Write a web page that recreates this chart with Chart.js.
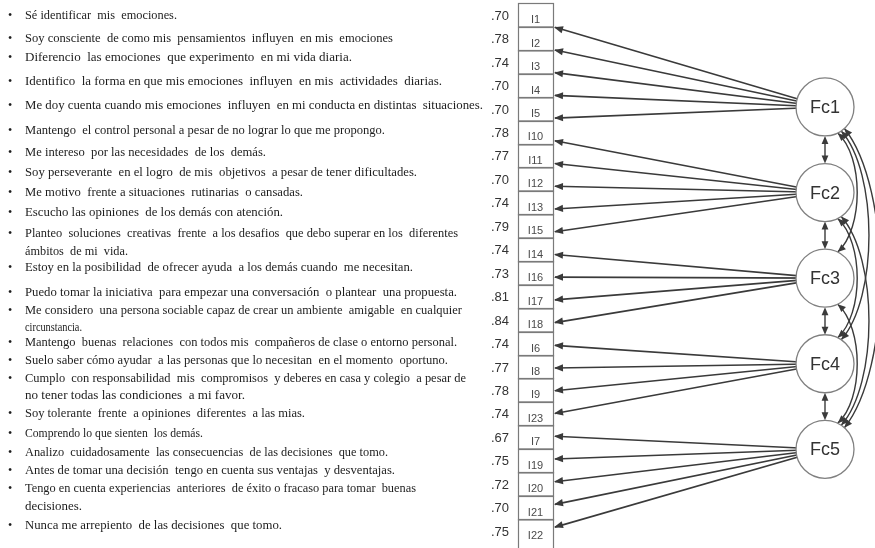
<!DOCTYPE html>
<html><head><meta charset="utf-8">
<script src="https://cdn.jsdelivr.net/npm/chart.js@4/dist/chart.umd.min.js"></script>
<style>html,body{margin:0;padding:0;background:#fff;overflow:hidden}canvas{display:block}</style>
</head><body>
<canvas id="c" width="875" height="548"></canvas>
<script>
// ---------- DATA ----------
const items = ['I1','I2','I3','I4','I5','I10','I11','I12','I13','I15','I14','I16','I17','I18','I6','I8','I9','I23','I7','I19','I20','I21','I22'];
const loadings = [.70,.78,.74,.70,.70,.78,.77,.70,.74,.79,.74,.73,.81,.84,.74,.77,.78,.74,.67,.75,.72,.70,.75];
const itemFactor = [0,0,0,0,0,1,1,1,1,1,2,2,2,2,3,3,3,3,4,4,4,4,4];
const factors = ['Fc1','Fc2','Fc3','Fc4','Fc5'];
const covariances = [[0,1],[1,2],[2,3],[3,4],[0,2],[0,3],[0,4],[1,3],[1,4],[2,4]];
const statements = [
  ['Sé identificar  mis  emociones.'],
  ['Soy consciente  de como mis  pensamientos  influyen  en mis  emociones'],
  ['Diferencio  las emociones  que experimento  en mi vida diaria.'],
  ['Identifico  la forma en que mis emociones  influyen  en mis  actividades  diarias.'],
  ['Me doy cuenta cuando mis emociones  influyen  en mi conducta en distintas  situaciones.'],
  ['Mantengo  el control personal a pesar de no lograr lo que me propongo.'],
  ['Me intereso  por las necesidades  de los  demás.'],
  ['Soy perseverante  en el logro  de mis  objetivos  a pesar de tener dificultades.'],
  ['Me motivo  frente a situaciones  rutinarias  o cansadas.'],
  ['Escucho las opiniones  de los demás con atención.'],
  ['Planteo  soluciones  creativas  frente  a los desafios  que debo superar en los  diferentes', 'ámbitos  de mi  vida.'],
  ['Estoy en la posibilidad  de ofrecer ayuda  a los demás cuando  me necesitan.'],
  ['Puedo tomar la iniciativa  para empezar una conversación  o plantear  una propuesta.'],
  ['Me considero  una persona sociable capaz de crear un ambiente  amigable  en cualquier', 'circunstancia.'],
  ['Mantengo  buenas  relaciones  con todos mis  compañeros de clase o entorno personal.'],
  ['Suelo saber cómo ayudar  a las personas que lo necesitan  en el momento  oportuno.'],
  ['Cumplo  con responsabilidad  mis  compromisos  y deberes en casa y colegio  a pesar de', 'no tener todas las condiciones  a mi favor.'],
  ['Soy tolerante  frente  a opiniones  diferentes  a las mias.'],
  ['Comprendo lo que sienten  los demás.'],
  ['Analizo  cuidadosamente  las consecuencias  de las decisiones  que tomo.'],
  ['Antes de tomar una decisión  tengo en cuenta sus ventajas  y desventajas.'],
  ['Tengo en cuenta experiencias  anteriores  de éxito o fracaso para tomar  buenas', 'decisiones.'],
  ['Nunca me arrepiento  de las decisiones  que tomo.']
];

// ---------- LAYOUT (not data) ----------
const BOX_X0 = 518, BOX_X1 = 553, FX = 825, FR = 29;
const factorPos = k => 4.42 + 3.65 * k;          // in item-row units
const arrowPos = i => 1.02 + 0.969 * i;          // arrow tip row position
const TEXT_X = 25;
const stmtY = [16,39,58,82,106,131,153,173,193,213,[234,252],268,293,[311,328],343,361,[379,396],414,434,453,471,[489,507],526];
const stmtEnd = [177,393,352,442,483,385,266,417,303,283,[458,128],413,457,[462,82],457,448,[466,245],305,203,388,395,[416,82],282];
const LINE = '#3a3a3a';

const lineSets = items.map((it, i) => ({
  label: it,
  data: [{x: FX, y: factorPos(itemFactor[i])}, {x: BOX_X1 + 2, y: arrowPos(i)}],
  showLine: true, borderColor: LINE, borderWidth: 1.6, pointRadius: 0, order: 2
}));
const circleSet = {
  label: 'factors',
  data: factors.map((f, k) => ({x: FX, y: factorPos(k)})),
  pointRadius: FR, pointHoverRadius: FR, pointBackgroundColor: '#fff',
  pointBorderColor: '#808080', pointBorderWidth: 1.3, showLine: false, order: 0
};

function arrowHead(ctx, tx, ty, fx, fy, len = 9, hw = 3.6) {
  const a = Math.atan2(ty - fy, tx - fx);
  ctx.save();
  ctx.translate(tx, ty); ctx.rotate(a);
  ctx.beginPath(); ctx.moveTo(0, 0); ctx.lineTo(-len, -hw); ctx.lineTo(-len, hw); ctx.closePath();
  ctx.fillStyle = LINE; ctx.fill();
  ctx.restore();
}

const diagram = {
  id: 'diagram',
  beforeDatasetsDraw(chart) {
    const ctx = chart.ctx, xs = chart.scales.x, ys = chart.scales.y;
    const px = v => xs.getPixelForValue(v), py = v => ys.getPixelForValue(v);
    ctx.save();
    ctx.strokeStyle = LINE; ctx.lineWidth = 1.4;
    covariances.forEach(([a, b]) => {
      const cy1 = py(factorPos(a)), cy2 = py(factorPos(b)), cx = px(FX);
      const span = b - a;
      if (span === 1) {
        const y1 = cy1 + FR, y2 = cy2 - FR;
        ctx.beginPath(); ctx.moveTo(cx, y1 + 6); ctx.lineTo(cx, y2 - 6); ctx.stroke();
        arrowHead(ctx, cx, y1, cx, y2, 8, 3.4);
        arrowHead(ctx, cx, y2, cx, y1, 8, 3.4);
      } else {
        const ang = [0, 0, 64, 56, 48][span] * Math.PI / 180;
        const sx = cx + FR * Math.cos(ang), sy = cy1 + FR * Math.sin(ang);
        const ex = cx + FR * Math.cos(ang), ey = cy2 - FR * Math.sin(ang);
        const k = [0, 0, 26, 37, 48][span];
        const d = (ey - sy) * 0.2;
        const c1x = sx + k, c1y = sy + d, c2x = ex + k, c2y = ey - d;
        ctx.beginPath(); ctx.moveTo(sx, sy); ctx.bezierCurveTo(c1x, c1y, c2x, c2y, ex, ey); ctx.stroke();
        arrowHead(ctx, sx, sy, c1x, c1y, 8, 3.4);
        arrowHead(ctx, ex, ey, c2x, c2y, 8, 3.4);
      }
    });
    ctx.restore();
  },
  afterDatasetsDraw(chart) {
    const ctx = chart.ctx, xs = chart.scales.x, ys = chart.scales.y;
    const px = v => xs.getPixelForValue(v), py = v => ys.getPixelForValue(v);
    ctx.save();
    ctx.strokeStyle = '#7a7a7a'; ctx.lineWidth = 1.2;
    items.forEach((it, i) => {
      const y0 = py(i), y1 = py(i === items.length - 1 ? i + 1.4 : i + 1);
      ctx.strokeRect(Math.round(px(BOX_X0)) + .5, Math.round(y0) + .5, px(BOX_X1) - px(BOX_X0), y1 - y0);
    });
    ctx.fillStyle = '#4a4a4a'; ctx.font = '11px "Liberation Sans", Arial, sans-serif';
    ctx.textAlign = 'center'; ctx.textBaseline = 'middle';
    items.forEach((it, i) => ctx.fillText(it, px((BOX_X0 + BOX_X1) / 2), py(i + 0.72)));
    ctx.fillStyle = '#333'; ctx.font = '13px "Liberation Sans", Arial, sans-serif';
    loadings.forEach((l, i) => ctx.fillText(l.toFixed(2).replace(/^0/, ''), px(500), py(i + 0.55)));
    items.forEach((it, i) => {
      arrowHead(ctx, px(BOX_X1 + 1), py(arrowPos(i)), px(FX), py(factorPos(itemFactor[i])), 9, 3.6);
    });
    ctx.fillStyle = '#333'; ctx.font = '18px "Liberation Sans", Arial, sans-serif';
    factors.forEach((f, k) => ctx.fillText(f, px(FX), py(factorPos(k)) + 1));
    ctx.textAlign = 'left'; ctx.fillStyle = '#1c1c1c';
    statements.forEach((lines, i) => {
      const ys2 = Array.isArray(stmtY[i]) ? stmtY[i] : [stmtY[i]];
      const es = Array.isArray(stmtEnd[i]) ? stmtEnd[i] : [stmtEnd[i]];
      ctx.font = '12px "Liberation Serif", "Times New Roman", serif';
      ctx.fillText('•', 8, ys2[0]);
      ctx.font = '13px "Liberation Serif", "Times New Roman", serif';
      lines.forEach((t, j) => {
        const w = ctx.measureText(t).width;
        const s = (es[j] - TEXT_X) / w;
        ctx.save(); ctx.translate(TEXT_X, ys2[j]); ctx.scale(s, 1);
        ctx.fillText(t, 0, 0);
        ctx.restore();
      });
    });
    ctx.restore();
  }
};

new Chart(document.getElementById('c'), {
  type: 'scatter',
  data: { datasets: [circleSet, ...lineSets] },
  options: {
    responsive: false, animation: false, devicePixelRatio: 1, events: [],
    layout: { padding: 0, autoPadding: false },
    plugins: { legend: { display: false }, tooltip: { enabled: false } },
    scales: {
      x: { type: 'linear', min: 0, max: 875, display: false },
      y: { type: 'linear', min: -3.3 / 23.45, max: (548 - 3.3) / 23.45, reverse: true, display: false }
    }
  },
  plugins: [diagram]
});
</script>
</body></html>
